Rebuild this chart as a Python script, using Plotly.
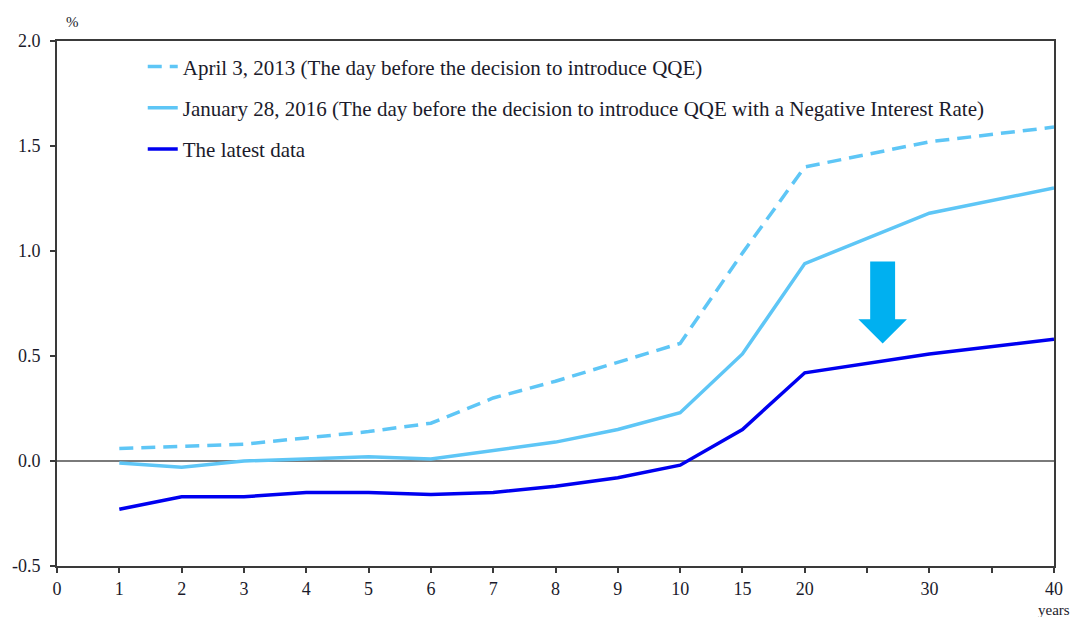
import plotly.graph_objects as go

# ── data ───────────────────────────────────────────────────────────────────────
maturities = ["1", "2", "3", "4", "5", "6", "7", "8", "9", "10", "15", "20", "30", "40"]
# position of each maturity on the (compressed) x axis
mat_pos = [1, 2, 3, 4, 5, 6, 7, 8, 9, 10, 11, 12, 14, 16]

apr_2013 = [0.06, 0.07, 0.08, 0.11, 0.14, 0.18, 0.30, 0.38, 0.47, 0.56, 0.99, 1.40, 1.52, 1.59]
jan_2016 = [-0.01, -0.03, 0.00, 0.01, 0.02, 0.01, 0.05, 0.09, 0.15, 0.23, 0.51, 0.94, 1.18, 1.30]
latest   = [-0.23, -0.17, -0.17, -0.15, -0.15, -0.16, -0.15, -0.12, -0.08, -0.02, 0.15, 0.42, 0.51, 0.58]

x_tick_pos  = list(range(0, 17))
x_tick_text = ["0", "1", "2", "3", "4", "5", "6", "7", "8", "9", "10",
               "15", "20", "", "30", "", "40"]
y_tick_val  = [-0.5, 0.0, 0.5, 1.0, 1.5, 2.0]
y_tick_text = ["-0.5", "0.0", "0.5", "1.0", "1.5", "2.0"]

# ── colours ────────────────────────────────────────────────────────────────────
C_LIGHT = "#5ec6f6"
C_DARK  = "#0000f0"
C_ARROW = "#00b0f0"
C_TEXT  = "#1b1b2b"
C_AXIS  = "#3a3a3a"
FONT    = "Liberation Serif"

fig = go.Figure()

fig.add_trace(go.Scatter(
    x=mat_pos, y=apr_2013, mode="lines", legendgroup="a",
    line=dict(color=C_LIGHT, width=3.5, dash="14px,8px"),
    name="April 3, 2013 (The day before the decision to introduce QQE)",
))
fig.add_trace(go.Scatter(
    x=mat_pos, y=jan_2016, mode="lines", legendgroup="b",
    line=dict(color=C_LIGHT, width=3.5),
    name="January 28, 2016 (The day before the decision to introduce QQE with a Negative Interest Rate)",
))
fig.add_trace(go.Scatter(
    x=mat_pos, y=latest, mode="lines", legendgroup="c",
    line=dict(color=C_DARK, width=3.5),
    name="The latest data",
))

# zero line
fig.add_shape(type="line", x0=0, x1=16, y0=0, y1=0, xref="x", yref="y",
              line=dict(color="#7a7a7a", width=2), layer="below")

# downward arrow
ax, hw, sw = 13.25, 0.39, 0.2
fig.add_shape(
    type="path", xref="x", yref="y",
    path=(f"M {ax - sw} 0.95 L {ax + sw} 0.95 L {ax + sw} 0.675 "
          f"L {ax + hw} 0.675 L {ax} 0.56 L {ax - hw} 0.675 "
          f"L {ax - sw} 0.675 Z"),
    fillcolor=C_ARROW, line=dict(width=0),
)

fig.add_annotation(x=0.016, y=1.036, xref="paper", yref="paper", text="%",
                   showarrow=False, xanchor="center", yanchor="middle",
                   font=dict(family=FONT, size=15, color=C_TEXT))
fig.add_annotation(x=1.0, y=-0.084, xref="paper", yref="paper", text="years",
                   showarrow=False, xanchor="center", yanchor="middle",
                   font=dict(family=FONT, size=15, color=C_TEXT))

# page body has an 8px margin, so the figure is made 8px smaller on each axis
fig.update_layout(
    width=1073, height=609,
    margin=dict(l=49, r=27, t=33, b=51, autoexpand=False),
    paper_bgcolor="white", plot_bgcolor="white",
    font=dict(family=FONT, size=18, color=C_TEXT),
    showlegend=True,
    legend=dict(x=0.086, y=0.99, xanchor="left", yanchor="top",
                bgcolor="rgba(0,0,0,0)", tracegroupgap=11,
                font=dict(family=FONT, size=21, color=C_TEXT)),
    xaxis=dict(range=[0, 16], tickvals=x_tick_pos, ticktext=x_tick_text,
               showgrid=False, zeroline=False, showline=True, mirror=True,
               linecolor=C_AXIS, linewidth=2, ticks="outside", ticklen=5,
               tickcolor=C_AXIS, tickwidth=2, automargin=False,
               tickfont=dict(family=FONT, size=18, color=C_TEXT)),
    yaxis=dict(range=[-0.5, 2.0], tickvals=y_tick_val, ticktext=y_tick_text,
               showgrid=False, zeroline=False, showline=True, mirror=True,
               linecolor=C_AXIS, linewidth=2, ticks="outside", ticklen=5,
               tickcolor=C_AXIS, tickwidth=2, automargin=False,
               ticklabelstandoff=6,
               tickfont=dict(family=FONT, size=18, color=C_TEXT)),
)

fig.write_html("out.html")
